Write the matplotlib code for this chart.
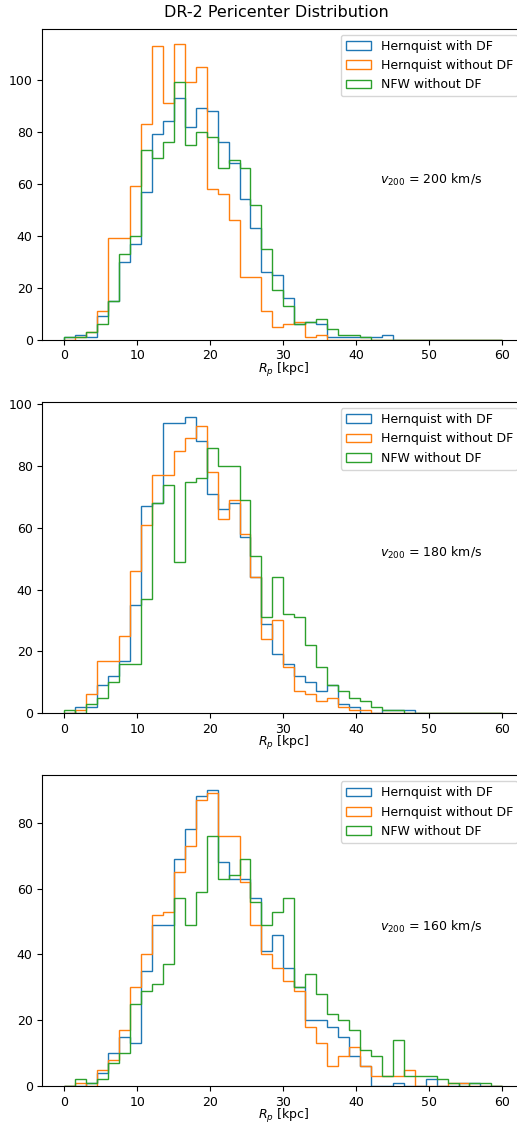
import matplotlib
matplotlib.use('Agg')
import matplotlib.pyplot as plt
import numpy as np

# pericenter bins, 1.5 kpc wide
edges = np.arange(0, 61.5, 1.5)
centers = 0.5 * (edges[:-1] + edges[1:])

labels = ['Hernquist with DF', 'Hernquist without DF', 'NFW without DF']
v200 = [200, 180, 160]

# v200 = 200 km/s
hq_df_200 = [1, 2, 1, 9, 15, 30, 37, 57, 79, 84, 93, 82, 89, 88, 76, 68, 54, 43, 26, 25,
             16, 6, 7, 6, 1, 1, 1, 1, 1, 2, 0, 0, 0, 0, 0, 0, 0, 0, 0, 0]
hq_nodf_200 = [0, 1, 3, 11, 39, 39, 59, 83, 113, 91, 114, 99, 105, 58, 56, 46, 24, 24, 11, 5,
               6, 7, 1, 2, 0, 0, 0, 0, 0, 0, 0, 0, 0, 0, 0, 0, 0, 0, 0, 0]
nfw_nodf_200 = [1, 1, 3, 6, 15, 33, 40, 73, 70, 76, 99, 75, 80, 78, 66, 69, 66, 52, 35, 19,
                13, 6, 7, 8, 4, 2, 2, 1, 0, 0, 0, 0, 0, 0, 0, 0, 0, 0, 0, 0]

# v200 = 180 km/s
hq_df_180 = [0, 2, 2, 9, 12, 17, 35, 67, 68, 94, 94, 96, 88, 71, 66, 68, 57, 44, 29, 19,
             16, 12, 10, 7, 9, 3, 2, 0, 0, 1, 1, 1, 0, 0, 0, 0, 0, 0, 0, 0]
hq_nodf_180 = [0, 1, 6, 17, 17, 25, 46, 61, 77, 77, 85, 89, 93, 78, 63, 69, 58, 44, 24, 30,
               15, 7, 6, 4, 5, 2, 1, 1, 0, 0, 0, 0, 0, 0, 0, 0, 0, 0, 0, 0]
nfw_nodf_180 = [1, 0, 3, 5, 10, 16, 16, 37, 68, 74, 49, 75, 76, 86, 80, 80, 69, 51, 31, 44,
                32, 31, 22, 15, 9, 7, 5, 4, 2, 1, 1, 0, 0, 0, 0, 0, 0, 0, 0, 0]

# v200 = 160 km/s
hq_df_160 = [0, 0, 1, 4, 10, 15, 13, 35, 49, 49, 69, 78, 88, 90, 68, 63, 63, 57, 41, 46,
             36, 30, 20, 20, 18, 15, 9, 6, 0, 0, 1, 0, 0, 2, 0, 0, 1, 1, 0, 0]
hq_nodf_160 = [0, 1, 0, 5, 8, 17, 30, 40, 52, 53, 65, 73, 87, 89, 76, 76, 62, 49, 40, 36,
               32, 29, 18, 13, 6, 9, 12, 6, 3, 3, 3, 5, 0, 0, 0, 1, 1, 0, 0, 0]
nfw_nodf_160 = [0, 2, 1, 2, 7, 10, 25, 29, 31, 37, 57, 49, 59, 76, 63, 64, 69, 56, 49, 53,
                57, 30, 34, 28, 22, 20, 17, 11, 9, 3, 14, 3, 3, 3, 2, 1, 0, 1, 1, 0]

panels = [
    (hq_df_200, hq_nodf_200, nfw_nodf_200),
    (hq_df_180, hq_nodf_180, nfw_nodf_180),
    (hq_df_160, hq_nodf_160, nfw_nodf_160),
]

plt.rcParams['font.size'] = 9

fig = plt.figure(figsize=(5.17, 11.26), dpi=100)
bottoms = [0.6983, 0.3668, 0.0355]

for i, series in enumerate(panels):
    ax = fig.add_axes([0.082, bottoms[i], 0.932, 0.2762])
    for counts, lab in zip(series, labels):
        ax.hist(centers, bins=edges, weights=counts, histtype='step',
                linewidth=1.0, label=lab)
    ax.set_xlabel('$R_p$ [kpc]', labelpad=-1)
    ax.text(0.70, 0.513, '$v_{200}$ = %d km/s' % v200[i],
            transform=ax.transAxes, va='center')
    ax.legend(loc='upper right')

fig.text(0.534, 0.9846, 'DR-2 Pericenter Distribution', ha='center',
         va='baseline', fontsize=11.5)

fig.savefig('out.png', dpi=100)
